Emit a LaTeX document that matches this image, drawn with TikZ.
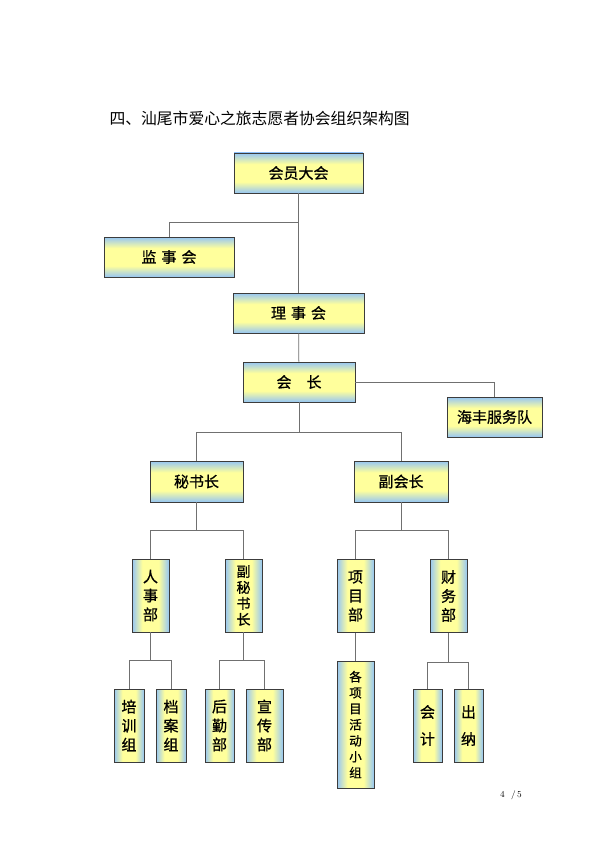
\documentclass[tikz,border=0pt]{standalone}
\usepackage{fontspec}
\newfontfamily\cjk{Noto Sans CJK SC}
\newfontfamily\cjkm{Noto Sans CJK SC}[FakeBold=0.8]
\definecolor{boxblue}{HTML}{96C6F4}
\definecolor{boxyellow}{HTML}{FFFF9C}
\definecolor{boxedge}{HTML}{3C3C3C}
\definecolor{linkgrey}{HTML}{707070}
\pgfdeclareverticalshading{hband}{100bp}{color(0bp)=(boxblue); color(25bp)=(boxblue);
  color(39bp)=(boxyellow); color(61bp)=(boxyellow); color(75bp)=(boxblue); color(100bp)=(boxblue)}
\pgfdeclarehorizontalshading{vband}{100bp}{color(0bp)=(boxblue); color(25bp)=(boxblue);
  color(39bp)=(boxyellow); color(61bp)=(boxyellow); color(75bp)=(boxblue); color(100bp)=(boxblue)}

\begin{document}
\begin{tikzpicture}[x=1pt, y=-1pt,
    hbox/.style={draw=boxedge, line width=0.9pt, shading=hband, minimum height=40pt,
      inner sep=0pt, font=\cjkm\fontsize{15}{17}\selectfont},
    vbox/.style={draw=boxedge, line width=0.9pt, shading=vband, minimum height=73pt,
      inner sep=0pt, align=center, font=\cjkm\fontsize{15}{19}\selectfont},
    link/.style={draw=linkgrey, line width=0.8pt}]
    \useasboundingbox[fill=white] (0,0) rectangle (598,850);
    \node[anchor=west, font=\cjk\fontsize{15.8}{18}\selectfont] (title) at (106,118)
      {四、汕尾市爱心之旅志愿者协会组织架构图};
    \node[hbox, minimum width=129pt] (hyd) at (298.5,173) {会员大会};
    \node[hbox, minimum width=130pt] (jsh) at (169,257) {监\hspace{5pt}事\hspace{5pt}会};
    \node[hbox, minimum width=131pt] (lsh) at (298.5,313) {理\hspace{5pt}事\hspace{5pt}会};
    \node[hbox, minimum width=112pt] (hz) at (299,382) {会\hspace{15pt}长};
    \node[hbox, minimum width=95pt] (hf) at (494.5,417) {海丰服务队};
    \node[hbox, minimum width=93pt, minimum height=41pt] (msz) at (196.5,481.5) {秘书长};
    \node[hbox, minimum width=94pt, minimum height=41pt] (fhz) at (401,481.5) {副会长};
    \node[vbox, minimum width=37pt] (rsb) at (150.5,595.5) {人\\事\\部};
    \node[vbox, minimum width=37pt, font=\cjkm\fontsize{14}{16}\selectfont] (fms) at (243.5,595.5) {副\\秘\\书\\长};
    \node[vbox, minimum width=37pt] (xmb) at (355.5,596) {项\\目\\部};
    \node[vbox, minimum width=37pt] (cwb) at (448.5,596) {财\\务\\部};
    \node[vbox, minimum width=30pt] (pxz) at (129,725.5) {培\\训\\组};
    \node[vbox, minimum width=30pt] (daz) at (171,725.5) {档\\案\\组};
    \node[vbox, minimum width=29pt] (hqb) at (219.5,725.5) {后\\勤\\部};
    \node[vbox, minimum width=37pt] (xcb) at (264.5,725.5) {宣\\传\\部};
    \node[vbox, minimum width=37pt, minimum height=127pt, font=\cjkm\fontsize{12.5}{16}\selectfont]
      (xmz) at (355.5,724.5) {各\\项\\目\\活\\动\\小\\组};
    \node[vbox, minimum width=29pt] (kj) at (427.5,725.5) {会\\[8pt]计};
    \node[vbox, minimum width=29pt] (cn) at (468.5,725.5) {出\\[8pt]纳};
    \node[font=\fontsize{9}{11}\selectfont] (page) at (511,795) {4\ \ /\,5};

    \coordinate (k0) at (298.5,222);
    \draw[link] (hyd) -- (lsh);
    \draw[link] (k0) -| (jsh.north);
    \draw[link] (lsh) -- (hz);
    \draw[link] (hz.east) -| (hf.north);
    \draw[link] (xmb) -- (xmz);
    \foreach \p/\a/\b/\d in {hz/msz/fhz/30, msz/rsb/fms/28, fhz/xmb/cwb/28,
                             rsb/pxz/daz/28, fms/hqb/xcb/28, cwb/kj/cn/29}{%
      \draw[link] (\p.south) -- ++(0,\d) coordinate (m);
      \draw[link] (\a.north) |- (m) -| (\b.north);}
\end{tikzpicture}
\end{document}
